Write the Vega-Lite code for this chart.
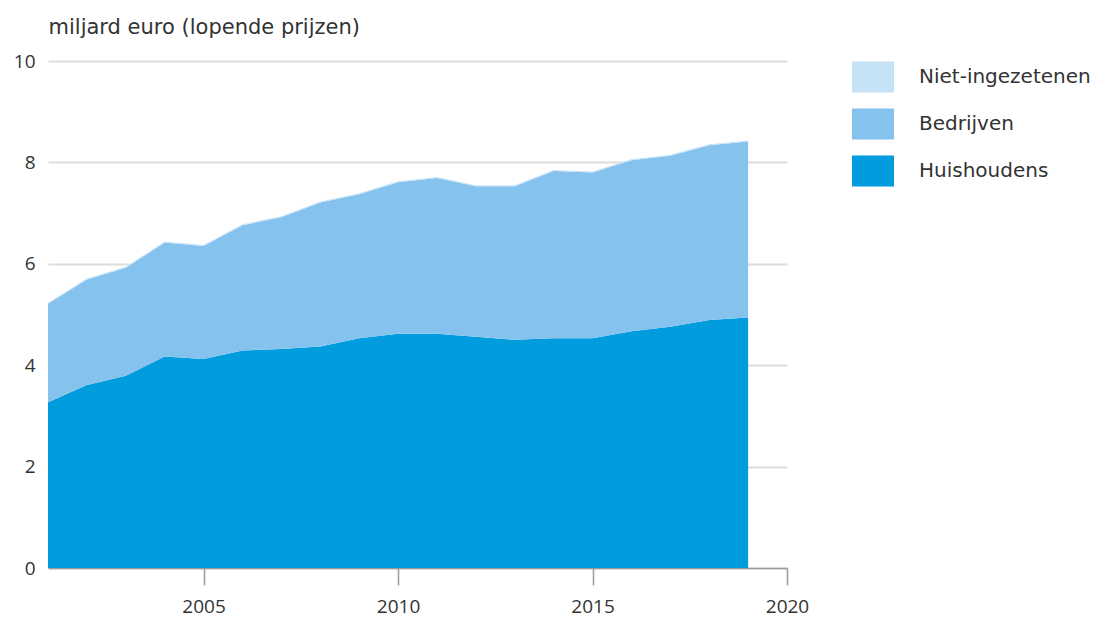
{
  "$schema": "https://vega.github.io/schema/vega-lite/v6.json",
  "width": 739,
  "height": 507,
  "autosize": {"type": "none"},
  "padding": {"left": 48, "top": 61, "right": 325, "bottom": 56},
  "background": "white",
  "config": {
    "view": {"stroke": null},
    "font": "Open Sans",
    "axis": {"labelColor": "#333333", "titleColor": "#333333", "labelFont": "Open Sans", "titleFont": "DejaVu Sans"},
    "legend": {"labelFont": "DejaVu Sans"}
  },
  "data": {
    "values": [
      {"jaar": 2001, "sector": "Huishoudens", "nr": 1, "waarde": 3.27},
      {"jaar": 2002, "sector": "Huishoudens", "nr": 1, "waarde": 3.61},
      {"jaar": 2003, "sector": "Huishoudens", "nr": 1, "waarde": 3.79},
      {"jaar": 2004, "sector": "Huishoudens", "nr": 1, "waarde": 4.17},
      {"jaar": 2005, "sector": "Huishoudens", "nr": 1, "waarde": 4.12},
      {"jaar": 2006, "sector": "Huishoudens", "nr": 1, "waarde": 4.29},
      {"jaar": 2007, "sector": "Huishoudens", "nr": 1, "waarde": 4.32},
      {"jaar": 2008, "sector": "Huishoudens", "nr": 1, "waarde": 4.37},
      {"jaar": 2009, "sector": "Huishoudens", "nr": 1, "waarde": 4.53},
      {"jaar": 2010, "sector": "Huishoudens", "nr": 1, "waarde": 4.62},
      {"jaar": 2011, "sector": "Huishoudens", "nr": 1, "waarde": 4.62},
      {"jaar": 2012, "sector": "Huishoudens", "nr": 1, "waarde": 4.56},
      {"jaar": 2013, "sector": "Huishoudens", "nr": 1, "waarde": 4.50},
      {"jaar": 2014, "sector": "Huishoudens", "nr": 1, "waarde": 4.53},
      {"jaar": 2015, "sector": "Huishoudens", "nr": 1, "waarde": 4.53},
      {"jaar": 2016, "sector": "Huishoudens", "nr": 1, "waarde": 4.67},
      {"jaar": 2017, "sector": "Huishoudens", "nr": 1, "waarde": 4.76},
      {"jaar": 2018, "sector": "Huishoudens", "nr": 1, "waarde": 4.89},
      {"jaar": 2019, "sector": "Huishoudens", "nr": 1, "waarde": 4.94},
      {"jaar": 2001, "sector": "Bedrijven", "nr": 2, "waarde": 1.94},
      {"jaar": 2002, "sector": "Bedrijven", "nr": 2, "waarde": 2.08},
      {"jaar": 2003, "sector": "Bedrijven", "nr": 2, "waarde": 2.13},
      {"jaar": 2004, "sector": "Bedrijven", "nr": 2, "waarde": 2.25},
      {"jaar": 2005, "sector": "Bedrijven", "nr": 2, "waarde": 2.23},
      {"jaar": 2006, "sector": "Bedrijven", "nr": 2, "waarde": 2.47},
      {"jaar": 2007, "sector": "Bedrijven", "nr": 2, "waarde": 2.60},
      {"jaar": 2008, "sector": "Bedrijven", "nr": 2, "waarde": 2.84},
      {"jaar": 2009, "sector": "Bedrijven", "nr": 2, "waarde": 2.84},
      {"jaar": 2010, "sector": "Bedrijven", "nr": 2, "waarde": 2.99},
      {"jaar": 2011, "sector": "Bedrijven", "nr": 2, "waarde": 3.07},
      {"jaar": 2012, "sector": "Bedrijven", "nr": 2, "waarde": 2.97},
      {"jaar": 2013, "sector": "Bedrijven", "nr": 2, "waarde": 3.03},
      {"jaar": 2014, "sector": "Bedrijven", "nr": 2, "waarde": 3.30},
      {"jaar": 2015, "sector": "Bedrijven", "nr": 2, "waarde": 3.27},
      {"jaar": 2016, "sector": "Bedrijven", "nr": 2, "waarde": 3.37},
      {"jaar": 2017, "sector": "Bedrijven", "nr": 2, "waarde": 3.37},
      {"jaar": 2018, "sector": "Bedrijven", "nr": 2, "waarde": 3.45},
      {"jaar": 2019, "sector": "Bedrijven", "nr": 2, "waarde": 3.47},
      {"jaar": 2001, "sector": "Niet-ingezetenen", "nr": 3, "waarde": 0.02},
      {"jaar": 2002, "sector": "Niet-ingezetenen", "nr": 3, "waarde": 0.02},
      {"jaar": 2003, "sector": "Niet-ingezetenen", "nr": 3, "waarde": 0.02},
      {"jaar": 2004, "sector": "Niet-ingezetenen", "nr": 3, "waarde": 0.02},
      {"jaar": 2005, "sector": "Niet-ingezetenen", "nr": 3, "waarde": 0.02},
      {"jaar": 2006, "sector": "Niet-ingezetenen", "nr": 3, "waarde": 0.02},
      {"jaar": 2007, "sector": "Niet-ingezetenen", "nr": 3, "waarde": 0.02},
      {"jaar": 2008, "sector": "Niet-ingezetenen", "nr": 3, "waarde": 0.02},
      {"jaar": 2009, "sector": "Niet-ingezetenen", "nr": 3, "waarde": 0.02},
      {"jaar": 2010, "sector": "Niet-ingezetenen", "nr": 3, "waarde": 0.02},
      {"jaar": 2011, "sector": "Niet-ingezetenen", "nr": 3, "waarde": 0.02},
      {"jaar": 2012, "sector": "Niet-ingezetenen", "nr": 3, "waarde": 0.02},
      {"jaar": 2013, "sector": "Niet-ingezetenen", "nr": 3, "waarde": 0.02},
      {"jaar": 2014, "sector": "Niet-ingezetenen", "nr": 3, "waarde": 0.02},
      {"jaar": 2015, "sector": "Niet-ingezetenen", "nr": 3, "waarde": 0.02},
      {"jaar": 2016, "sector": "Niet-ingezetenen", "nr": 3, "waarde": 0.02},
      {"jaar": 2017, "sector": "Niet-ingezetenen", "nr": 3, "waarde": 0.02},
      {"jaar": 2018, "sector": "Niet-ingezetenen", "nr": 3, "waarde": 0.02},
      {"jaar": 2019, "sector": "Niet-ingezetenen", "nr": 3, "waarde": 0.02}
    ]
  },
  "mark": {"type": "area", "interpolate": "linear", "opacity": 1},
  "encoding": {
    "x": {
      "field": "jaar",
      "type": "quantitative",
      "scale": {"domain": [2001, 2020], "nice": false, "zero": false},
      "axis": {
        "title": null,
        "values": [2005, 2010, 2015, 2020],
        "format": "d",
        "grid": false,
        "domainColor": "#9a9a9a",
        "domainWidth": 1.5,
        "tickColor": "#9a9a9a",
        "tickWidth": 1.5,
        "tickSize": 17,
        "labelPadding": 12,
        "labelFontSize": 19,
        "labelFlush": false
      }
    },
    "y": {
      "field": "waarde",
      "type": "quantitative",
      "stack": "zero",
      "scale": {"domain": [0, 10], "nice": false},
      "axis": {
        "title": "miljard euro (lopende prijzen)",
        "titleAngle": 0,
        "titleAlign": "left",
        "titleBaseline": "alphabetic",
        "titleX": 0,
        "titleY": -28,
        "titleFontSize": 21,
        "titleFontWeight": "normal",
        "values": [0, 2, 4, 6, 8, 10],
        "domain": false,
        "ticks": false,
        "grid": true,
        "gridColor": "#dddddd",
        "gridWidth": 2,
        "labelPadding": 13,
        "labelFontSize": 19
      }
    },
    "color": {
      "field": "sector",
      "type": "nominal",
      "scale": {
        "domain": ["Niet-ingezetenen", "Bedrijven", "Huishoudens"],
        "range": ["#c6e2f7", "#85c3ee", "#009cde"]
      },
      "legend": {
        "title": null,
        "orient": "none",
        "legendX": 804,
        "legendY": -5,
        "padding": 0,
        "symbolType": "M-1,-0.74H1V0.74H-1Z",
        "symbolSize": 1764,
        "symbolStrokeWidth": 0,
        "symbolOpacity": 1,
        "labelFontSize": 20,
        "labelColor": "#333333",
        "labelOffset": 25,
        "rowPadding": 10,
        "labelLimit": 300
      }
    },
    "order": {"field": "nr", "type": "quantitative"}
  }
}
